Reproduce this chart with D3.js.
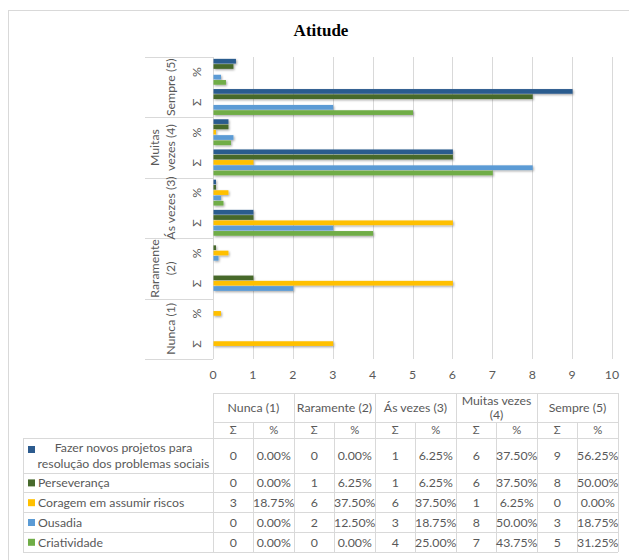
<!DOCTYPE html>
<html>
<head>
<meta charset="utf-8">
<script src="https://cdn.jsdelivr.net/npm/d3@7/dist/d3.min.js"></script>
<style>
  html, body { margin: 0; padding: 0; background: #fff; }
  svg { display: block; }
  text { font-family: Lato, "Open Sans", sans-serif; fill: #595959; }
</style>
</head>
<body>
<svg id="chart" width="629" height="560"></svg>
<script>
// Response levels (chart categories, left to right in the table)
const levels = ["Nunca (1)", "Raramente (2)", "Ás vezes (3)", "Muitas vezes (4)", "Sempre (5)"];
const measures = ["%", "Σ"];

// Series
const seriesNames = [
  "Fazer novos projetos para resolução dos problemas sociais",
  "Perseverança",
  "Coragem em assumir riscos",
  "Ousadia",
  "Criatividade"
];

// Counts (Σ) per level
const fazerCounts        = [0, 0, 1, 6, 9];
const perseverancaCounts = [0, 1, 1, 6, 8];
const coragemCounts      = [3, 6, 6, 1, 0];
const ousadiaCounts      = [0, 2, 3, 8, 3];
const criatividadeCounts = [0, 0, 4, 7, 5];

// Percentages (%) per level
const fazerPct        = [0, 0, 6.25, 37.5, 56.25];
const perseverancaPct = [0, 6.25, 6.25, 37.5, 50];
const coragemPct      = [18.75, 37.5, 37.5, 6.25, 0];
const ousadiaPct      = [0, 12.5, 18.75, 50, 18.75];
const criatividadePct = [0, 0, 25, 43.75, 31.25];

// Axis ticks
const xTicks = [0, 1, 2, 3, 4, 5, 6, 7, 8, 9, 10];

// Wrapped label text
const axisLevelLines  = [["Nunca (1)"], ["Raramente", "(2)"], ["Ás vezes (3)"], ["Muitas", "vezes (4)"], ["Sempre (5)"]];
const tableLevelLines = [["Nunca (1)"], ["Raramente (2)"], ["Ás vezes (3)"], ["Muitas vezes", "(4)"], ["Sempre (5)"]];
const legendLines = [
  ["Fazer novos projetos para", "resolução dos problemas sociais"],
  ["Perseverança"],
  ["Coragem em assumir riscos"],
  ["Ousadia"],
  ["Criatividade"]
];

const seriesColors = ["#2C5B8E", "#47692C", "#FFC000", "#5B9BD5", "#70AD47"];

const countsBySeries = [fazerCounts, perseverancaCounts, coragemCounts, ousadiaCounts, criatividadeCounts];
const pctBySeries    = [fazerPct, perseverancaPct, coragemPct, ousadiaPct, criatividadePct];

const svg = d3.select("#chart");
const gridColor = "#D9D9D9";
const textColor = "#595959";
const fontSize = 12.3;

// Chart frame
svg.append("rect")
  .attr("x", 8.5).attr("y", 10.5).attr("width", 640).attr("height", 580)
  .attr("fill", "none").attr("stroke", gridColor);

// Title
svg.append("text")
  .attr("x", 321).attr("y", 36)
  .attr("text-anchor", "middle")
  .style("font-family", "'Liberation Serif', 'Times New Roman', serif")
  .style("font-weight", "bold")
  .style("font-size", "17px")
  .style("fill", "#000")
  .text("Atitude");

// Shadow for bars
const defs = svg.append("defs");
const f = defs.append("filter").attr("id", "shadow")
  .attr("x", "-5%").attr("y", "-50%").attr("width", "120%").attr("height", "250%");
f.append("feDropShadow").attr("dx", 1).attr("dy", 1.2).attr("stdDeviation", 0.9)
  .attr("flood-color", "#000").attr("flood-opacity", 0.35);

// Scales
const plotTop = 57, plotBottom = 359;
const x = d3.scaleLinear().domain([0, 10]).range([213, 612]);

// Rows from top: Sempre %, Sempre Σ, ..., Nunca Σ
const rowKeys = [];
levels.slice().reverse().forEach(l => measures.forEach(m => rowKeys.push(l + "|" + m)));
const y0 = d3.scaleBand().domain(rowKeys).range([plotTop, plotBottom]);
const y1 = d3.scaleBand().domain(seriesNames).range([0, y0.bandwidth()]).paddingOuter(0.35);
const yLevel = d3.scaleBand().domain(levels.slice().reverse()).range([plotTop, plotBottom]);

// Vertical gridlines
svg.append("g").selectAll("line")
  .data(xTicks.filter(t => t > 0))
  .join("line")
  .attr("x1", d => Math.round(x(d)) + 0.5).attr("x2", d => Math.round(x(d)) + 0.5)
  .attr("y1", plotTop).attr("y2", plotBottom)
  .attr("stroke", gridColor);

// Category axis line
svg.append("line")
  .attr("x1", 213.5).attr("x2", 213.5).attr("y1", plotTop).attr("y2", plotBottom)
  .attr("stroke", gridColor);

// Outer category separators
svg.append("g").selectAll("line")
  .data(levels.slice().reverse().map(l => yLevel(l)).concat([plotBottom]))
  .join("line")
  .attr("x1", 145).attr("x2", 213)
  .attr("y1", d => Math.round(d) + 0.5).attr("y2", d => Math.round(d) + 0.5)
  .attr("stroke", gridColor);

// Bars
const barData = [];
levels.forEach((lvl, li) => {
  seriesNames.forEach((s, si) => {
    barData.push({ row: lvl + "|%", series: s, value: pctBySeries[si][li] / 100, color: seriesColors[si] });
    barData.push({ row: lvl + "|Σ", series: s, value: countsBySeries[si][li], color: seriesColors[si] });
  });
});
svg.append("g").attr("filter", "url(#shadow)")
  .selectAll("rect")
  .data(barData.filter(d => d.value > 0))
  .join("rect")
  .attr("x", x(0) + 0.5)
  .attr("y", d => y0(d.row) + y1(d.series))
  .attr("width", d => x(d.value) - x(0))
  .attr("height", y1.bandwidth() - 0.6)
  .attr("fill", d => d.color);

// Inner category labels (% / Σ)
svg.append("g").selectAll("text")
  .data(rowKeys)
  .join("text")
  .attr("transform", d => `translate(197,${y0(d) + y0.bandwidth() / 2}) rotate(-90)`)
  .attr("text-anchor", "middle")
  .attr("dy", "0.35em")
  .style("font-size", fontSize + "px")
  .text(d => d.split("|")[1]);

// Outer category labels
levels.forEach((lvl, li) => {
  const lines = axisLevelLines[li];
  const cy = yLevel(lvl) + yLevel.bandwidth() / 2;
  lines.forEach((line, k) => {
    const cx = 171 - (lines.length - 1 - k) * 16;
    svg.append("text")
      .attr("transform", `translate(${cx},${cy}) rotate(-90)`)
      .attr("text-anchor", "middle")
      .attr("dy", "0.35em")
      .style("font-size", fontSize + "px")
      .text(line);
  });
});

// Value axis tick labels
svg.append("g").selectAll("text")
  .data(xTicks)
  .join("text")
  .attr("x", d => x(d)).attr("y", 375)
  .attr("dy", "0.35em")
  .attr("text-anchor", "middle")
  .style("font-size", fontSize + "px")
  .text(d => d);

// ---- Data table ----
const tableLeft = 213, tableRight = 618;
const colKeys = [];
levels.forEach(l => measures.slice().reverse().forEach(m => colKeys.push(l + "|" + m)));
const col = d3.scaleBand().domain(colKeys).range([tableLeft, tableRight]);
const grp = d3.scaleBand().domain(levels).range([tableLeft, tableRight]);

const headTop = 393, subTop = 422, bodyTop = 438;
const rowHeight = n => 19.8 + (n - 1) * 15.2;
const rowTops = [];
let acc = bodyTop;
legendLines.forEach(l => { rowTops.push(acc); acc += rowHeight(l.length); });
const tableBottom = acc;
const legendLeft = 23;

const tg = svg.append("g").attr("stroke", gridColor).attr("shape-rendering", "crispEdges");
// horizontal lines
tg.append("line").attr("x1", tableLeft).attr("x2", tableRight).attr("y1", headTop).attr("y2", headTop);
tg.append("line").attr("x1", tableLeft).attr("x2", tableRight).attr("y1", subTop).attr("y2", subTop);
rowTops.concat([tableBottom]).forEach(yv => {
  tg.append("line").attr("x1", legendLeft).attr("x2", tableRight).attr("y1", yv).attr("y2", yv);
});
// vertical lines
tg.append("line").attr("x1", legendLeft).attr("x2", legendLeft).attr("y1", bodyTop).attr("y2", tableBottom);
colKeys.forEach((k, i) => {
  const xv = col(k);
  const top = (i % 2 === 0) ? headTop : subTop;
  tg.append("line").attr("x1", xv).attr("x2", xv).attr("y1", top).attr("y2", tableBottom);
});
tg.append("line").attr("x1", tableRight).attr("x2", tableRight).attr("y1", headTop).attr("y2", tableBottom);

// header texts
levels.forEach((lvl, li) => {
  const lines = tableLevelLines[li];
  const cx = grp(lvl) + grp.bandwidth() / 2;
  const cy = (headTop + subTop) / 2;
  lines.forEach((line, k) => {
    svg.append("text")
      .attr("x", cx)
      .attr("y", cy + (k - (lines.length - 1) / 2) * 14)
      .attr("dy", "0.35em")
      .attr("text-anchor", "middle")
      .style("font-size", fontSize + "px")
      .text(line);
  });
});
colKeys.forEach(k => {
  svg.append("text")
    .attr("x", col(k) + col.bandwidth() / 2)
    .attr("y", (subTop + bodyTop) / 2)
    .attr("dy", "0.35em")
    .attr("text-anchor", "middle")
    .style("font-size", (fontSize - 1) + "px")
    .text(k.split("|")[1]);
});

// body rows
seriesNames.forEach((s, si) => {
  const top = rowTops[si];
  const h = rowHeight(legendLines[si].length);
  const cy = top + h / 2;
  // legend key
  const keyY = legendLines[si].length > 1 ? top + 8 : cy - 3.5;
  svg.append("rect")
    .attr("x", 28).attr("y", keyY).attr("width", 7).attr("height", 7)
    .attr("fill", seriesColors[si]);
  const lines = legendLines[si];
  lines.forEach((line, k) => {
    const t = svg.append("text")
      .attr("y", cy + (k - (lines.length - 1) / 2) * 15.5)
      .attr("dy", "0.35em")
      .style("font-size", fontSize + "px")
      .text(line);
    if (lines.length > 1) t.attr("x", 123.5).attr("text-anchor", "middle");
    else t.attr("x", 38);
  });
  // values
  levels.forEach((lvl, li) => {
    svg.append("text")
      .attr("x", col(lvl + "|Σ") + col.bandwidth() / 2)
      .attr("y", cy).attr("dy", "0.35em")
      .attr("text-anchor", "middle")
      .style("font-size", fontSize + "px")
      .text(countsBySeries[si][li]);
    svg.append("text")
      .attr("x", col(lvl + "|%") + col.bandwidth() / 2)
      .attr("y", cy).attr("dy", "0.35em")
      .attr("text-anchor", "middle")
      .style("font-size", fontSize + "px")
      .text(pctBySeries[si][li].toFixed(2) + "%");
  });
});
</script>
</body>
</html>
